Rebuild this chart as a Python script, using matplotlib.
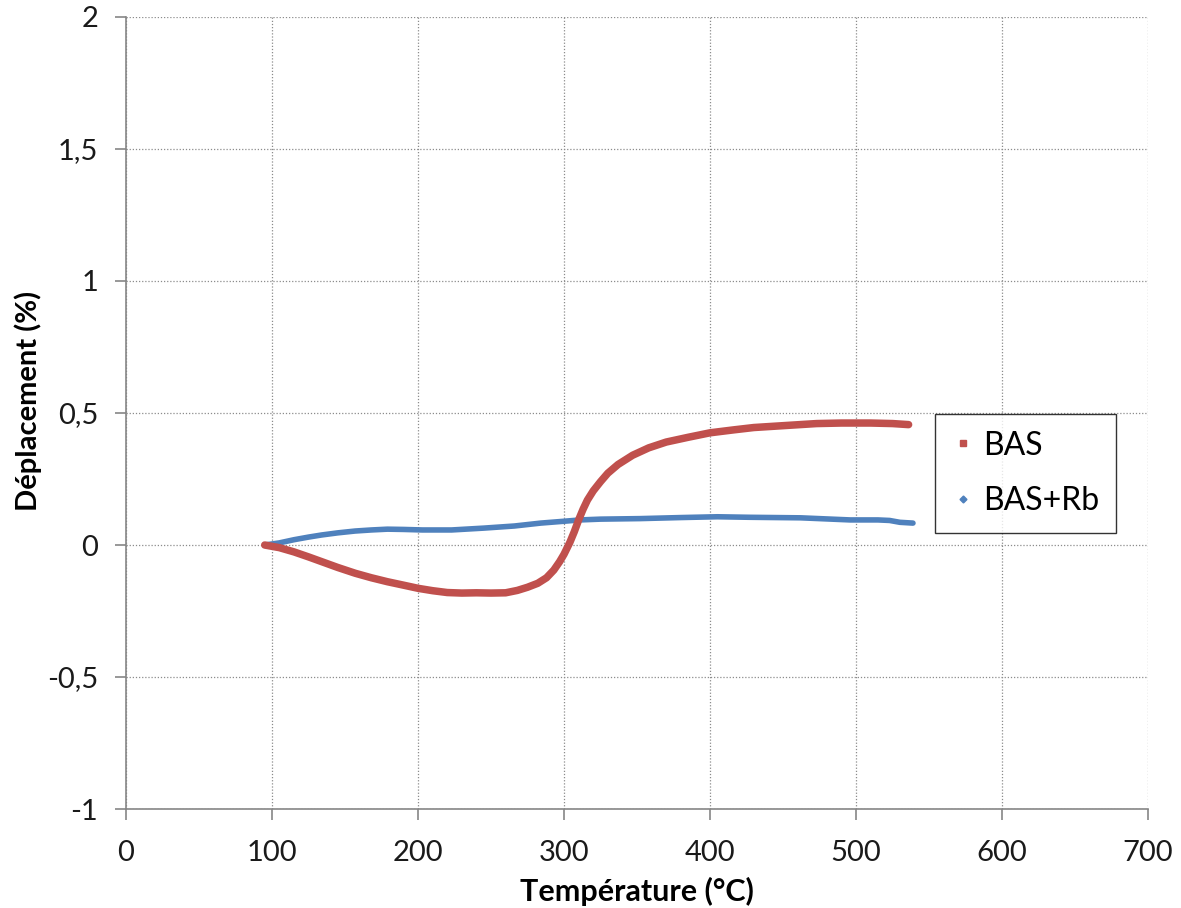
import matplotlib
matplotlib.use("Agg")
import matplotlib.pyplot as plt
from matplotlib.lines import Line2D
from matplotlib.ticker import FuncFormatter, MultipleLocator

# Dilatometry curves: displacement (%) versus temperature (°C)
bas_temp = [95, 105, 115, 125, 134, 145, 157, 168, 179, 190, 200, 210, 220, 230,
            240, 250, 260, 268, 275, 282, 288, 293, 297, 300, 304, 307, 310, 313,
            316, 320, 325, 330, 337, 347, 358, 370, 385, 400, 416, 430, 450, 473,
            490, 510, 525, 536]
bas_disp = [0.0, -0.010, -0.026, -0.045, -0.063, -0.085, -0.107, -0.124, -0.139,
            -0.152, -0.164, -0.173, -0.180, -0.182, -0.181, -0.182, -0.181, -0.172,
            -0.160, -0.145, -0.124, -0.095, -0.063, -0.035, 0.010, 0.050, 0.095,
            0.135, 0.170, 0.205, 0.240, 0.272, 0.305, 0.340, 0.368, 0.390, 0.408,
            0.425, 0.436, 0.445, 0.452, 0.460, 0.462, 0.462, 0.460, 0.456]

basrb_temp = [95, 105, 115, 125, 134, 145, 157, 168, 179, 190, 203, 223, 245, 266,
              284, 300, 311, 325, 352, 380, 405, 427, 462, 496, 515, 523, 530, 539]
basrb_disp = [0.0, 0.008, 0.020, 0.030, 0.038, 0.046, 0.053, 0.057, 0.060, 0.059,
              0.057, 0.057, 0.064, 0.072, 0.083, 0.090, 0.095, 0.098, 0.100, 0.104,
              0.107, 0.105, 0.103, 0.095, 0.095, 0.093, 0.086, 0.083]

series_labels = ["BAS", "BAS+Rb"]
red = "#C0504D"
blue = "#4F81BD"

plt.rcParams["font.family"] = ["Lato", "DejaVu Sans"]

fig = plt.figure(figsize=(11.81, 9.08), dpi=100)
ax = fig.add_axes([0.1067, 0.109, 0.8654, 0.8723])

ax.plot(basrb_temp, basrb_disp, color=blue, lw=4.0, solid_capstyle="round",
        solid_joinstyle="round", zorder=3)
ax.plot(bas_temp, bas_disp, color=red, lw=5.4, solid_capstyle="round",
        solid_joinstyle="round", zorder=4)

ax.set_xlim(0, 700)
ax.set_ylim(-1, 2)
ax.xaxis.set_major_locator(MultipleLocator(100))
ax.yaxis.set_major_locator(MultipleLocator(0.5))


def comma_fmt(v, pos):
    if abs(v - round(v)) < 1e-9:
        return "%d" % round(v)
    return ("%.1f" % v).replace(".", ",")


ax.yaxis.set_major_formatter(FuncFormatter(comma_fmt))

grid_color = "#8C8C8C"
ax.grid(True, which="major", color=grid_color, linestyle=(0, (1, 1.5)), lw=0.9)
ax.set_axisbelow(True)

for side in ("top", "right"):
    ax.spines[side].set_visible(False)
for side in ("left", "bottom"):
    ax.spines[side].set_color("#868686")
    ax.spines[side].set_linewidth(1.2)

ax.tick_params(axis="both", direction="out", length=8, width=1.2, color="#868686",
               labelsize=21, labelcolor="#1a1a1a")
ax.tick_params(axis="x", pad=14)
ax.tick_params(axis="y", pad=12)

ax.set_xlabel("Température (°C)", fontsize=22, fontweight="bold", labelpad=8)
ax.set_ylabel("Déplacement (%)", fontsize=21, fontweight="bold")
ax.yaxis.set_label_coords(-0.082, 0.515)

handles = [
    Line2D([], [], linestyle="none", marker="s", markersize=5, color=red),
    Line2D([], [], linestyle="none", marker="D", markersize=3.5, color=blue),
]
leg = ax.legend(handles, series_labels, loc="upper left",
                bbox_to_anchor=(0.7916, 0.4987), borderaxespad=0,
                fancybox=False, frameon=True, fontsize=23, handlelength=0.7,
                handletextpad=0.3, labelspacing=0.8, borderpad=0.52)
leg.get_frame().set_edgecolor("black")
leg.get_frame().set_linewidth(1.0)

fig.savefig("out.png", dpi=100, facecolor="white")
